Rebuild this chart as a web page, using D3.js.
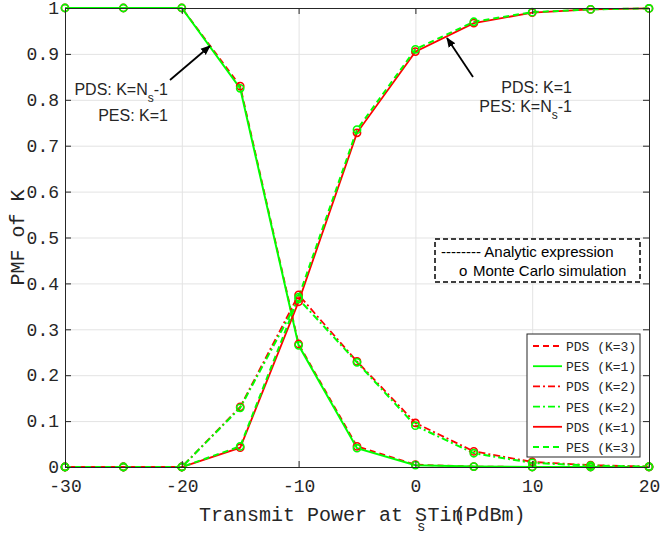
<!DOCTYPE html>
<html>
<head>
<meta charset="utf-8">
<script src="https://cdn.jsdelivr.net/npm/d3@7"></script>
<style>
  body { margin: 0; background: #fff; }
  svg { display: block; }
  text { white-space: pre; }
</style>
</head>
<body>
<div id="chart"></div>
<script>
const width = 661;
const height = 535;

// transmit power (dBm)
const powers = [-30, -25, -20, -15, -10, -5, 0, 5, 10, 15, 20];
const xTicks = [-30, -20, -10, 0, 10, 20];
const yTicks = [0, 0.1, 0.2, 0.3, 0.4, 0.5, 0.6, 0.7, 0.8, 0.9, 1];

// PMF values
const pdsK3 = [1, 1, 1, 0.830, 0.268, 0.045, 0.005, 0.001, 0, 0, 0];
const pesK1 = [1, 1, 1, 0.825, 0.265, 0.041, 0.004, 0.001, 0, 0, 0];
const pdsK2 = [0, 0, 0, 0.131, 0.375, 0.230, 0.096, 0.034, 0.011, 0.004, 0.001];
const pesK2 = [0, 0, 0, 0.129, 0.366, 0.228, 0.090, 0.030, 0.009, 0.003, 0.001];
const pdsK1 = [0, 0, 0, 0.042, 0.360, 0.728, 0.905, 0.967, 0.990, 0.997, 0.999];
const pesK3 = [0, 0, 0, 0.045, 0.370, 0.735, 0.910, 0.970, 0.991, 0.997, 0.999];

const seriesNames = ['PDS (K=3)', 'PES (K=1)', 'PDS (K=2)', 'PES (K=2)', 'PDS (K=1)', 'PES (K=3)'];
const seriesValues = [pdsK3, pesK1, pdsK2, pesK2, pdsK1, pesK3];

const RED = '#ff0000';
const GREEN = '#00ff00';
const AX = '#262626';
const MONO = '"Liberation Mono", "DejaVu Sans Mono", monospace';
const SANS = '"Liberation Sans", Arial, sans-serif';

function styleFor(name) {
  const color = name.startsWith('PDS') ? RED : GREEN;
  let dash = null;
  if (name === 'PDS (K=3)' || name === 'PES (K=3)') dash = '6,4';
  if (name.indexOf('K=2') >= 0) dash = '7,3,2,3';
  return { color, dash };
}

const margin = { left: 65, right: 12, top: 8, bottom: 68 };
const x = d3.scaleLinear().domain([-30, 20]).range([margin.left, width - margin.right]);
const y = d3.scaleLinear().domain([0, 1]).range([height - margin.bottom, margin.top]);

const svg = d3.select('#chart').append('svg')
  .attr('width', width)
  .attr('height', height);

// grid
const grid = svg.append('g');
grid.append('g')
  .attr('transform', `translate(0,${y(0)})`)
  .call(d3.axisBottom(x).tickValues(xTicks).tickSize(-(y(0) - y(1))).tickFormat(''))
  .call(g => g.select('.domain').remove())
  .call(g => g.selectAll('line').attr('stroke', '#e3e3e3'));
grid.append('g')
  .attr('transform', `translate(${x(-30)},0)`)
  .call(d3.axisLeft(y).tickValues(yTicks).tickSize(-(x(20) - x(-30))).tickFormat(''))
  .call(g => g.select('.domain').remove())
  .call(g => g.selectAll('line').attr('stroke', '#e3e3e3'));

// lines
const line = d3.line().x(d => x(d[0])).y(d => y(d[1]));
const series = seriesNames.map((name, i) => ({
  name,
  points: powers.map((p, j) => [p, seriesValues[i][j]]),
  ...styleFor(name)
}));

svg.append('g').selectAll('path')
  .data(series)
  .join('path')
  .attr('d', d => line(d.points))
  .attr('fill', 'none')
  .attr('stroke', d => d.color)
  .attr('stroke-width', d => d.color === GREEN ? 2 : 1.8)
  .attr('stroke-dasharray', d => d.dash);

// Monte Carlo markers
series.forEach(s => {
  svg.append('g').selectAll('circle')
    .data(s.points)
    .join('circle')
    .attr('cx', d => x(d[0]))
    .attr('cy', d => y(d[1]))
    .attr('r', 3.6)
    .attr('fill', 'none')
    .attr('stroke', s.color)
    .attr('stroke-width', 1.6);
});

// axes (box with inward ticks)
function styleAxis(g) {
  g.select('.domain').attr('stroke', AX);
  g.selectAll('line').attr('stroke', AX);
  g.selectAll('text').attr('fill', AX).attr('font-family', MONO).attr('font-size', 18);
}
svg.append('g')
  .attr('transform', `translate(0,${y(0)})`)
  .call(d3.axisBottom(x).tickValues(xTicks).tickSizeInner(-6).tickSizeOuter(0).tickPadding(12).tickFormat(d => String(d)))
  .call(styleAxis);
svg.append('g')
  .attr('transform', `translate(${x(-30)},0)`)
  .call(d3.axisLeft(y).tickValues(yTicks).tickSizeInner(-6).tickSizeOuter(0).tickPadding(6).tickFormat(d => String(d)))
  .call(styleAxis);
svg.append('g')
  .attr('transform', `translate(0,${y(1)})`)
  .call(d3.axisTop(x).tickValues(xTicks).tickSizeInner(-6).tickSizeOuter(0).tickFormat(''))
  .call(styleAxis);
svg.append('g')
  .attr('transform', `translate(${x(20)},0)`)
  .call(d3.axisRight(y).tickValues(yTicks).tickSizeInner(-6).tickSizeOuter(0).tickFormat(''))
  .call(styleAxis);

// axis labels
const xl = svg.append('text')
  .attr('x', 199).attr('y', 521)
  .attr('font-family', MONO).attr('font-size', 20).attr('fill', AX);
xl.append('tspan').text('Transmit Power at S');
xl.append('tspan').attr('dx', -10).attr('dy', 10).attr('font-size', 14).text('s');
xl.append('tspan').attr('dx', 2).attr('dy', -10).text('Tin');
xl.append('tspan').attr('dx', -10).text('(PdBm)');

svg.append('text')
  .attr('transform', `translate(24,${(y(0) + y(1)) / 2}) rotate(-90)`)
  .attr('text-anchor', 'middle')
  .attr('font-family', MONO).attr('font-size', 20).attr('fill', AX)
  .text('PMF of K');

// annotations
const defs = svg.append('defs');
defs.append('marker')
  .attr('id', 'arrow')
  .attr('viewBox', '0 0 10 10')
  .attr('refX', 9).attr('refY', 5)
  .attr('markerWidth', 10).attr('markerHeight', 10)
  .attr('markerUnits', 'userSpaceOnUse')
  .attr('orient', 'auto')
  .append('path').attr('d', 'M0,1 L10,5 L0,9 Z').attr('fill', '#000');

svg.append('line').attr('x1', 170).attr('y1', 80).attr('x2', 210).attr('y2', 46)
  .attr('stroke', '#000').attr('stroke-width', 1.8).attr('marker-end', 'url(#arrow)');
svg.append('line').attr('x1', 473).attr('y1', 77).attr('x2', 447).attr('y2', 38)
  .attr('stroke', '#000').attr('stroke-width', 1.8).attr('marker-end', 'url(#arrow)');

function annot(xr, yb, pre, sub, post) {
  const t = svg.append('text')
    .attr('x', xr).attr('y', yb)
    .attr('text-anchor', 'end')
    .attr('font-family', SANS).attr('font-size', 16).attr('fill', '#262626');
  t.append('tspan').text(pre);
  if (sub) {
    t.append('tspan').attr('dy', 7).attr('font-size', 12).text(sub);
    t.append('tspan').attr('dy', -7).text(post);
  }
}
annot(168, 95, 'PDS: K=N', 's', '-1');
annot(168, 121, 'PES: K=1');
annot(572, 93, 'PDS: K=1');
annot(572, 112, 'PES: K=N', 's', '-1');

// dashed note box
svg.append('rect')
  .attr('x', 435).attr('y', 239).attr('width', 205).attr('height', 43)
  .attr('fill', '#fff').attr('stroke', '#000').attr('stroke-width', 1.5)
  .attr('stroke-dasharray', '5,3');
svg.append('text').attr('x', 441).attr('y', 257)
  .attr('font-family', SANS).attr('font-size', 15).attr('fill', '#000')
  .text('-------- Analytic expression');
svg.append('text').attr('x', 459).attr('y', 276)
  .attr('font-family', SANS).attr('font-size', 15).attr('fill', '#000')
  .text('o');
svg.append('text').attr('x', 473).attr('y', 276)
  .attr('font-family', SANS).attr('font-size', 15).attr('fill', '#000')
  .text('Monte Carlo simulation');

// legend
const lg = svg.append('g');
lg.append('rect')
  .attr('x', 527).attr('y', 334).attr('width', 113).attr('height', 123)
  .attr('fill', '#fff').attr('stroke', AX).attr('stroke-width', 1);
const rows = lg.selectAll('g.row')
  .data(series)
  .join('g')
  .attr('class', 'row')
  .attr('transform', (d, i) => `translate(0,${346 + i * 20.2})`);
rows.append('line')
  .attr('x1', 533).attr('x2', 562)
  .attr('stroke', d => d.color).attr('stroke-width', 1.8)
  .attr('stroke-dasharray', d => d.dash);
rows.append('text')
  .attr('x', 566).attr('y', 5)
  .attr('font-family', MONO).attr('font-size', 13).attr('fill', AX)
  .text(d => d.name);
</script>
</body>
</html>
